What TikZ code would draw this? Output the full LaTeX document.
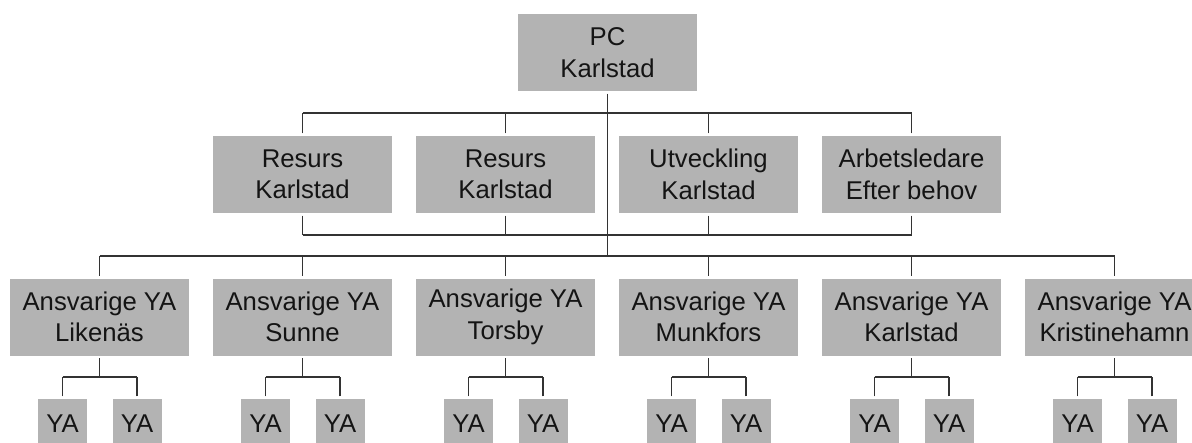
\documentclass[tikz,border=0pt]{standalone}
\usepackage{fontspec}
\setmainfont{Liberation Sans}
\usetikzlibrary{calc}
\definecolor{boxgray}{HTML}{B3B3B3}
\definecolor{linegray}{HTML}{333333}
\definecolor{textdark}{HTML}{141414}
\tikzset{
  unit/.style={rectangle, fill=boxgray, inner sep=0pt, align=center,
    text=textdark, font=\fontsize{25.7}{31.5}\selectfont},
  bigbox/.style={unit, minimum width=179pt, minimum height=77pt},
  yabox/.style={unit, minimum width=49pt, minimum height=50pt},
  conn/.style={draw=linegray, line width=1.9pt},
  tick/.style={conn, shorten <=2.5pt},
}
\begin{document}
\begin{tikzpicture}[x=1pt,y=-1pt]
\useasboundingbox (0,0) rectangle (1192,442);
\clip (0,0) rectangle (1192,442);

% top of the tree
\node[bigbox] (pc) at (607.5,52.5) {PC\\Karlstad};

% staff units under PC
\node[bigbox] (r1) at (302.5,174.5) {Resurs\\Karlstad};
\node[bigbox] (r2) at (505.5,174.5) {Resurs\\Karlstad};
\node[bigbox] (r3) at (708.5,174.5) {Utveckling\\Karlstad};
\node[bigbox] (r4) at (911.5,174.5) {Arbetsledare\\Efter behov};

% local managers
\node[bigbox] (a1) at (99.5,317)   {Ansvarige YA\\Likenäs};
\node[bigbox] (a2) at (302.5,317)  {Ansvarige YA\\Sunne};
\node[bigbox] (a3) at (505.5,317)  {Ansvarige YA\\Torsby};
\node[bigbox] (a4) at (708.5,317)  {Ansvarige YA\\Munkfors};
\node[bigbox] (a5) at (911.5,317)  {Ansvarige YA\\Karlstad};
\node[bigbox] (a6) at (1114.5,317) {Ansvarige YA\\Kristinehamn};

% YA pairs under each manager
\foreach \i in {1,...,6}{
  \node[yabox] (y\i a) at ($(a\i.center)+(-37,107)$) {YA};
  \node[yabox] (y\i b) at ($(a\i.center)+(37.5,107)$) {YA};
}

% bus levels
\coordinate (busA) at (0,113);
\coordinate (busB) at (0,235);
\coordinate (busC) at (0,256);

% PC trunk down to the manager bus
\draw[tick] (pc.south) -- (pc.south |- busC);

% upper and lower rails of the staff units
\draw[conn] (r1.north |- busA) -- (r4.north |- busA);
\draw[conn] (r1.south |- busB) -- (r4.south |- busB);
\foreach \n in {r1,r2,r3,r4}{
  \draw[tick] (\n.north) -- (\n.north |- busA);
  \draw[tick] (\n.south) -- (\n.south |- busB);
}

% manager bus
\draw[conn] (a1.north |- busC) -- (a6.north |- busC);
\foreach \i in {1,...,6}{
  \draw[tick] (a\i.north) -- (a\i.north |- busC);
  \coordinate (f\i) at ($(a\i.south)+(0,21)$);
  \draw[tick] (a\i.south) -- (f\i);
  \draw[conn] (y\i a.north |- f\i) -- (y\i b.north |- f\i);
  \draw[tick] (y\i a.north) -- (y\i a.north |- f\i);
  \draw[tick] (y\i b.north) -- (y\i b.north |- f\i);
}
\end{tikzpicture}
\end{document}
